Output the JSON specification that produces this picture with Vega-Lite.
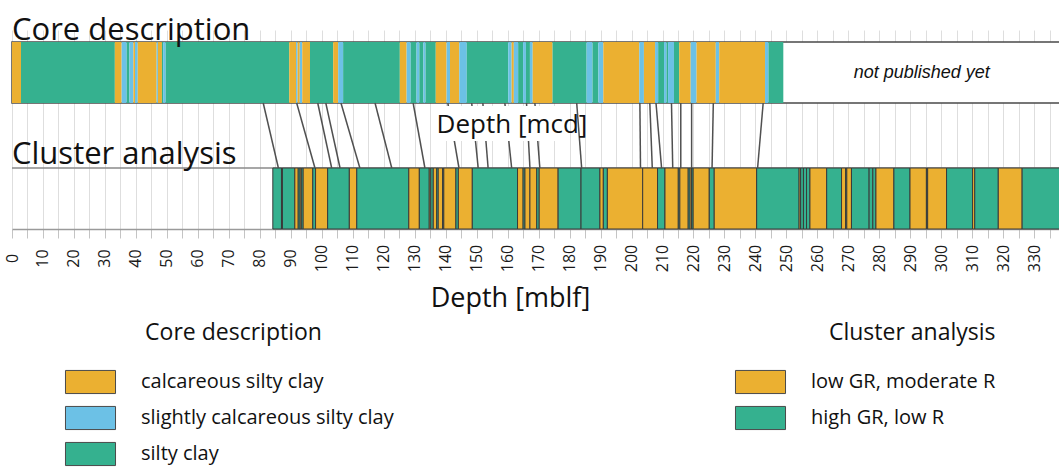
{
  "$schema": "https://vega.github.io/schema/vega-lite/v6.json",
  "width": 1047,
  "height": 199,
  "autosize": {"type": "none"},
  "padding": {"left": 12, "top": 30, "right": 0, "bottom": 240},
  "background": "white",
  "config": {
    "view": {"stroke": null},
    "font": "Open Sans",
    "text": {"color": "#111111"}
  },
  "datasets": {
    "core": [
      {"top": 0, "bottom": 2.9, "lithology": "calcareous silty clay"},
      {"top": 2.9, "bottom": 33.2, "lithology": "silty clay"},
      {"top": 33.2, "bottom": 35.4, "lithology": "calcareous silty clay"},
      {"top": 35.4, "bottom": 37.0, "lithology": "slightly calcareous silty clay"},
      {"top": 37.0, "bottom": 37.9, "lithology": "silty clay"},
      {"top": 37.9, "bottom": 39.2, "lithology": "slightly calcareous silty clay"},
      {"top": 39.2, "bottom": 39.7, "lithology": "calcareous silty clay"},
      {"top": 39.7, "bottom": 40.6, "lithology": "slightly calcareous silty clay"},
      {"top": 40.6, "bottom": 46.7, "lithology": "calcareous silty clay"},
      {"top": 46.7, "bottom": 47.1, "lithology": "slightly calcareous silty clay"},
      {"top": 47.1, "bottom": 48.4, "lithology": "calcareous silty clay"},
      {"top": 48.4, "bottom": 48.8, "lithology": "silty clay"},
      {"top": 48.8, "bottom": 49.6, "lithology": "slightly calcareous silty clay"},
      {"top": 49.6, "bottom": 89.5, "lithology": "silty clay"},
      {"top": 89.5, "bottom": 91.7, "lithology": "calcareous silty clay"},
      {"top": 91.7, "bottom": 92.2, "lithology": "slightly calcareous silty clay"},
      {"top": 92.2, "bottom": 92.9, "lithology": "calcareous silty clay"},
      {"top": 92.9, "bottom": 93.7, "lithology": "slightly calcareous silty clay"},
      {"top": 93.7, "bottom": 96.2, "lithology": "calcareous silty clay"},
      {"top": 96.2, "bottom": 103.7, "lithology": "silty clay"},
      {"top": 103.7, "bottom": 105.3, "lithology": "calcareous silty clay"},
      {"top": 105.3, "bottom": 106.9, "lithology": "slightly calcareous silty clay"},
      {"top": 106.9, "bottom": 125.2, "lithology": "silty clay"},
      {"top": 125.2, "bottom": 127.4, "lithology": "calcareous silty clay"},
      {"top": 127.4, "bottom": 128.7, "lithology": "slightly calcareous silty clay"},
      {"top": 128.7, "bottom": 130.6, "lithology": "silty clay"},
      {"top": 130.6, "bottom": 131.5, "lithology": "slightly calcareous silty clay"},
      {"top": 131.5, "bottom": 132.8, "lithology": "silty clay"},
      {"top": 132.8, "bottom": 133.5, "lithology": "slightly calcareous silty clay"},
      {"top": 133.5, "bottom": 136.8, "lithology": "silty clay"},
      {"top": 136.8, "bottom": 140.3, "lithology": "calcareous silty clay"},
      {"top": 140.3, "bottom": 141.4, "lithology": "slightly calcareous silty clay"},
      {"top": 141.4, "bottom": 144.4, "lithology": "calcareous silty clay"},
      {"top": 144.4, "bottom": 146.8, "lithology": "slightly calcareous silty clay"},
      {"top": 146.8, "bottom": 160.2, "lithology": "silty clay"},
      {"top": 160.2, "bottom": 161.3, "lithology": "slightly calcareous silty clay"},
      {"top": 161.3, "bottom": 162.0, "lithology": "calcareous silty clay"},
      {"top": 162.0, "bottom": 163.4, "lithology": "slightly calcareous silty clay"},
      {"top": 163.4, "bottom": 165.0, "lithology": "silty clay"},
      {"top": 165.0, "bottom": 165.9, "lithology": "slightly calcareous silty clay"},
      {"top": 165.9, "bottom": 167.2, "lithology": "silty clay"},
      {"top": 167.2, "bottom": 168.1, "lithology": "slightly calcareous silty clay"},
      {"top": 168.1, "bottom": 174.5, "lithology": "calcareous silty clay"},
      {"top": 174.5, "bottom": 185.5, "lithology": "silty clay"},
      {"top": 185.5, "bottom": 187.4, "lithology": "slightly calcareous silty clay"},
      {"top": 187.4, "bottom": 189.3, "lithology": "silty clay"},
      {"top": 189.3, "bottom": 190.9, "lithology": "slightly calcareous silty clay"},
      {"top": 190.9, "bottom": 202.5, "lithology": "calcareous silty clay"},
      {"top": 202.5, "bottom": 204.0, "lithology": "slightly calcareous silty clay"},
      {"top": 204.0, "bottom": 207.6, "lithology": "calcareous silty clay"},
      {"top": 207.6, "bottom": 208.6, "lithology": "slightly calcareous silty clay"},
      {"top": 208.6, "bottom": 210.5, "lithology": "silty clay"},
      {"top": 210.5, "bottom": 211.3, "lithology": "slightly calcareous silty clay"},
      {"top": 211.3, "bottom": 211.8, "lithology": "silty clay"},
      {"top": 211.8, "bottom": 213.7, "lithology": "slightly calcareous silty clay"},
      {"top": 213.7, "bottom": 215.4, "lithology": "silty clay"},
      {"top": 215.4, "bottom": 219.1, "lithology": "calcareous silty clay"},
      {"top": 219.1, "bottom": 221.0, "lithology": "slightly calcareous silty clay"},
      {"top": 221.0, "bottom": 227.2, "lithology": "calcareous silty clay"},
      {"top": 227.2, "bottom": 228.3, "lithology": "slightly calcareous silty clay"},
      {"top": 228.3, "bottom": 243.1, "lithology": "calcareous silty clay"},
      {"top": 243.1, "bottom": 244.2, "lithology": "slightly calcareous silty clay"},
      {"top": 244.2, "bottom": 249.0, "lithology": "silty clay"}
    ],
    "cluster": [
      {"top": 84.2, "bottom": 87.0, "cluster": "high GR, low R"},
      {"top": 87.0, "bottom": 87.3, "cluster": "low GR, moderate R"},
      {"top": 87.3, "bottom": 91.3, "cluster": "high GR, low R"},
      {"top": 91.3, "bottom": 92.4, "cluster": "low GR, moderate R"},
      {"top": 92.4, "bottom": 93.0, "cluster": "high GR, low R"},
      {"top": 93.0, "bottom": 93.4, "cluster": "low GR, moderate R"},
      {"top": 93.4, "bottom": 94.0, "cluster": "high GR, low R"},
      {"top": 94.0, "bottom": 97.1, "cluster": "low GR, moderate R"},
      {"top": 97.1, "bottom": 98.0, "cluster": "high GR, low R"},
      {"top": 98.0, "bottom": 101.9, "cluster": "low GR, moderate R"},
      {"top": 101.9, "bottom": 108.9, "cluster": "high GR, low R"},
      {"top": 108.9, "bottom": 111.3, "cluster": "low GR, moderate R"},
      {"top": 111.3, "bottom": 128.1, "cluster": "high GR, low R"},
      {"top": 128.1, "bottom": 131.5, "cluster": "low GR, moderate R"},
      {"top": 131.5, "bottom": 134.7, "cluster": "high GR, low R"},
      {"top": 134.7, "bottom": 135.2, "cluster": "low GR, moderate R"},
      {"top": 135.2, "bottom": 136.0, "cluster": "high GR, low R"},
      {"top": 136.0, "bottom": 137.1, "cluster": "low GR, moderate R"},
      {"top": 137.1, "bottom": 137.6, "cluster": "high GR, low R"},
      {"top": 137.6, "bottom": 139.0, "cluster": "low GR, moderate R"},
      {"top": 139.0, "bottom": 139.4, "cluster": "high GR, low R"},
      {"top": 139.4, "bottom": 143.3, "cluster": "low GR, moderate R"},
      {"top": 143.3, "bottom": 144.1, "cluster": "high GR, low R"},
      {"top": 144.1, "bottom": 148.6, "cluster": "low GR, moderate R"},
      {"top": 148.6, "bottom": 163.2, "cluster": "high GR, low R"},
      {"top": 163.2, "bottom": 165.0, "cluster": "low GR, moderate R"},
      {"top": 165.0, "bottom": 165.6, "cluster": "high GR, low R"},
      {"top": 165.6, "bottom": 167.2, "cluster": "low GR, moderate R"},
      {"top": 167.2, "bottom": 169.4, "cluster": "low GR, moderate R"},
      {"top": 169.4, "bottom": 170.2, "cluster": "high GR, low R"},
      {"top": 170.2, "bottom": 176.3, "cluster": "low GR, moderate R"},
      {"top": 176.3, "bottom": 183.7, "cluster": "high GR, low R"},
      {"top": 183.7, "bottom": 189.8, "cluster": "high GR, low R"},
      {"top": 189.8, "bottom": 190.9, "cluster": "low GR, moderate R"},
      {"top": 190.9, "bottom": 192.2, "cluster": "high GR, low R"},
      {"top": 192.2, "bottom": 203.6, "cluster": "low GR, moderate R"},
      {"top": 203.6, "bottom": 208.4, "cluster": "low GR, moderate R"},
      {"top": 208.4, "bottom": 210.8, "cluster": "high GR, low R"},
      {"top": 210.8, "bottom": 215.1, "cluster": "low GR, moderate R"},
      {"top": 215.1, "bottom": 215.6, "cluster": "high GR, low R"},
      {"top": 215.6, "bottom": 218.3, "cluster": "low GR, moderate R"},
      {"top": 218.3, "bottom": 218.9, "cluster": "high GR, low R"},
      {"top": 218.9, "bottom": 219.4, "cluster": "low GR, moderate R"},
      {"top": 219.4, "bottom": 219.9, "cluster": "high GR, low R"},
      {"top": 219.9, "bottom": 225.1, "cluster": "low GR, moderate R"},
      {"top": 225.1, "bottom": 226.7, "cluster": "high GR, low R"},
      {"top": 226.7, "bottom": 240.4, "cluster": "low GR, moderate R"},
      {"top": 240.4, "bottom": 254.1, "cluster": "high GR, low R"},
      {"top": 254.1, "bottom": 254.6, "cluster": "low GR, moderate R"},
      {"top": 254.6, "bottom": 255.5, "cluster": "high GR, low R"},
      {"top": 255.5, "bottom": 256.5, "cluster": "high GR, low R"},
      {"top": 256.5, "bottom": 257.6, "cluster": "high GR, low R"},
      {"top": 257.6, "bottom": 263.0, "cluster": "low GR, moderate R"},
      {"top": 263.0, "bottom": 267.8, "cluster": "high GR, low R"},
      {"top": 267.8, "bottom": 269.1, "cluster": "low GR, moderate R"},
      {"top": 269.1, "bottom": 269.5, "cluster": "high GR, low R"},
      {"top": 269.5, "bottom": 271.0, "cluster": "low GR, moderate R"},
      {"top": 271.0, "bottom": 276.7, "cluster": "high GR, low R"},
      {"top": 276.7, "bottom": 277.9, "cluster": "high GR, low R"},
      {"top": 277.9, "bottom": 278.9, "cluster": "high GR, low R"},
      {"top": 278.9, "bottom": 284.7, "cluster": "low GR, moderate R"},
      {"top": 284.7, "bottom": 289.9, "cluster": "high GR, low R"},
      {"top": 289.9, "bottom": 295.2, "cluster": "low GR, moderate R"},
      {"top": 295.2, "bottom": 295.6, "cluster": "high GR, low R"},
      {"top": 295.6, "bottom": 301.7, "cluster": "low GR, moderate R"},
      {"top": 301.7, "bottom": 310.1, "cluster": "high GR, low R"},
      {"top": 310.1, "bottom": 310.8, "cluster": "low GR, moderate R"},
      {"top": 310.8, "bottom": 318.4, "cluster": "high GR, low R"},
      {"top": 318.4, "bottom": 326.1, "cluster": "low GR, moderate R"},
      {"top": 326.1, "bottom": 340, "cluster": "high GR, low R"}
    ],
    "ties": [
      {"mcd": 81.1, "mblf": 86.0},
      {"mcd": 91.9, "mblf": 97.8},
      {"mcd": 98.7, "mblf": 103.2},
      {"mcd": 101.3, "mblf": 105.9},
      {"mcd": 106.2, "mblf": 112.3},
      {"mcd": 117.2, "mblf": 122.6},
      {"mcd": 129.5, "mblf": 133.3},
      {"mcd": 140.7, "mblf": 144.3},
      {"mcd": 148.4, "mblf": 150.5},
      {"mcd": 152.0, "mblf": 153.7},
      {"mcd": 159.1, "mblf": 161.3},
      {"mcd": 166.1, "mblf": 167.2},
      {"mcd": 168.8, "mblf": 170.4},
      {"mcd": 182.3, "mblf": 183.9},
      {"mcd": 202.7, "mblf": 202.9},
      {"mcd": 205.9, "mblf": 206.7},
      {"mcd": 207.9, "mblf": 209.7},
      {"mcd": 212.9, "mblf": 213.3},
      {"mcd": 215.9, "mblf": 215.9},
      {"mcd": 219.4, "mblf": 219.4},
      {"mcd": 226.4, "mblf": 226.0},
      {"mcd": 242.5, "mblf": 240.7}
    ]
  },
  "layer": [
    {
      "data": {"values": [{}]},
      "mark": {"type": "rect", "fill": "white", "stroke": "#4a4a4a", "strokeWidth": 1.5},
      "encoding": {
        "x": {"datum": 0, "type": "quantitative", "scale": {"domain": [0, 338], "nice": false, "zero": false}},
        "x2": {"datum": 340},
        "y": {"datum": 126, "type": "quantitative", "scale": {"domain": [0, 199], "nice": false, "zero": false}, "axis": null},
        "y2": {"datum": 187}
      }
    },
    {
      "data": {"name": "core"},
      "mark": {"type": "rect"},
      "encoding": {
        "x": {
          "field": "top",
          "type": "quantitative",
          "axis": {
            "values": [0,5,10,15,20,25,30,35,40,45,50,55,60,65,70,75,80,85,90,95,100,105,110,115,120,125,130,135,140,145,150,155,160,165,170,175,180,185,190,195,200,205,210,215,220,225,230,235,240,245,250,255,260,265,270,275,280,285,290,295,300,305,310,315,320,325,330,335],
            "tickCount": 200,
            "labelExpr": "datum.value % 10 === 0 ? datum.label : ''",
            "grid": true,
            "gridColor": "#dedede",
            "gridWidth": 1,
            "tickColor": "#c4c4c4",
            "tickSize": 9,
            "domainColor": "#9a9a9a",
            "domainWidth": 1.5,
            "labelAngle": 270,
            "labelAlign": "center",
            "labelBaseline": "middle",
            "labelPadding": 20,
            "labelFontSize": 16,
            "labelColor": "#1a1a1a",
            "labelOverlap": false,
            "labelFlush": false,
            "title": "Depth [mblf]",
            "titleFontSize": 27,
            "titleFontWeight": "normal",
            "titleColor": "#111111",
            "titleX": 498,
            "titleY": 69,
            "titleAlign": "center",
            "titleBaseline": "middle"
          }
        },
        "x2": {"field": "bottom"},
        "y": {"datum": 126},
        "y2": {"datum": 187},
        "color": {
          "field": "lithology",
          "type": "nominal",
          "scale": {
            "domain": ["calcareous silty clay", "slightly calcareous silty clay", "silty clay"],
            "range": ["#EBB031", "#6CC1E6", "#35B18F"]
          },
          "legend": {
            "orient": "none",
            "legendX": 60.5,
            "legendY": 292,
            "padding": 0,
            "title": "Core description",
            "titleFontSize": 23,
            "titleFontWeight": "normal",
            "titleColor": "#111111",
            "titleAnchor": "middle",
            "titleAlign": "center",
            "titlePadding": 19,
            "titleLimit": 500,
            "labelFontSize": 20,
            "labelColor": "#111111",
            "labelLimit": 500,
            "labelOffset": 32.5,
            "rowPadding": 4,
            "symbolType": "M-1.43,-0.66H1.43V0.66H-1.43Z",
            "symbolSize": 1225,
            "symbolOpacity": 1,
            "symbolStrokeColor": "#4a4a4a",
            "symbolStrokeWidth": 1
          }
        }
      }
    },
    {
      "data": {"values": [{}]},
      "mark": {"type": "text", "text": "not published yet", "font": "Liberation Sans", "fontStyle": "italic", "fontSize": 18, "align": "center", "baseline": "middle", "color": "#111111"},
      "encoding": {
        "x": {"datum": 293.7},
        "y": {"datum": 156}
      }
    },
    {
      "data": {"values": [{}]},
      "mark": {"type": "rule", "color": "#8a8a8a", "strokeWidth": 1.5},
      "encoding": {
        "x": {"datum": 0},
        "x2": {"datum": 340},
        "y": {"datum": 61}
      }
    },
    {
      "data": {"name": "cluster"},
      "mark": {"type": "rect", "stroke": "#3a3a3a", "strokeWidth": 1},
      "encoding": {
        "x": {"field": "top", "type": "quantitative"},
        "x2": {"field": "bottom"},
        "y": {"datum": 0},
        "y2": {"datum": 61},
        "color": {
          "field": "cluster",
          "type": "nominal",
          "scale": {
            "domain": ["low GR, moderate R", "high GR, low R"],
            "range": ["#EBB031", "#35B18F"]
          },
          "legend": {
            "orient": "none",
            "legendX": 730.5,
            "legendY": 292,
            "padding": 0,
            "title": "Cluster analysis",
            "titleFontSize": 23,
            "titleFontWeight": "normal",
            "titleColor": "#111111",
            "titleAnchor": "end",
            "titleAlign": "right",
            "titlePadding": 19,
            "titleLimit": 500,
            "labelFontSize": 20,
            "labelColor": "#111111",
            "labelLimit": 500,
            "labelOffset": 32.5,
            "rowPadding": 4,
            "symbolType": "M-1.43,-0.66H1.43V0.66H-1.43Z",
            "symbolSize": 1225,
            "symbolOpacity": 1,
            "symbolStrokeColor": "#4a4a4a",
            "symbolStrokeWidth": 1
          }
        }
      }
    },
    {
      "data": {"name": "ties"},
      "mark": {"type": "rule", "color": "#505050", "strokeWidth": 1.5},
      "encoding": {
        "x": {"field": "mcd", "type": "quantitative"},
        "x2": {"field": "mblf"},
        "y": {"datum": 126},
        "y2": {"datum": 61}
      }
    },
    {
      "data": {"values": [{}]},
      "mark": {"type": "rect", "fill": "white"},
      "encoding": {
        "x": {"datum": 137.2},
        "x2": {"datum": 177.5},
        "y": {"datum": 88},
        "y2": {"datum": 123}
      }
    },
    {
      "data": {"values": [{}]},
      "mark": {"type": "text", "text": "Depth [mcd]", "fontSize": 26, "align": "center", "baseline": "middle"},
      "encoding": {
        "x": {"datum": 161.4},
        "y": {"datum": 104}
      }
    },
    {
      "data": {"values": [{}]},
      "mark": {"type": "text", "text": "Core description", "fontSize": 31, "align": "left", "baseline": "alphabetic"},
      "encoding": {
        "x": {"datum": 0},
        "y": {"datum": 189}
      }
    },
    {
      "data": {"values": [{}]},
      "mark": {"type": "text", "text": "Cluster analysis", "fontSize": 31, "align": "left", "baseline": "alphabetic"},
      "encoding": {
        "x": {"datum": 0},
        "y": {"datum": 65}
      }
    }
  ],
  "resolve": {"scale": {"color": "independent"}}
}
